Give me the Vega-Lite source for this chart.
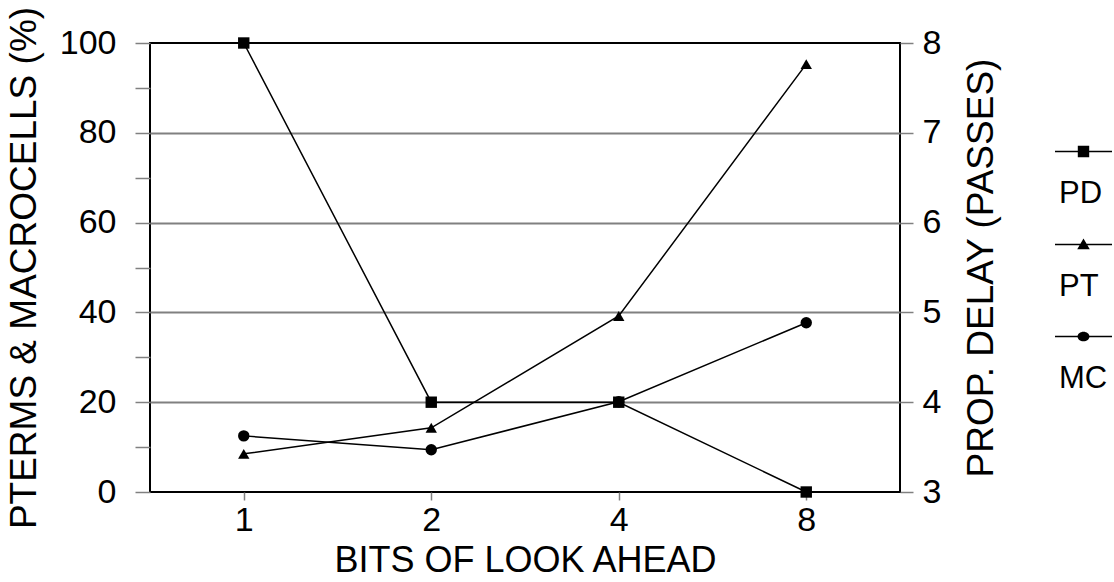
{
  "$schema": "https://vega.github.io/schema/vega-lite/v6.json",
  "autosize": "none",
  "width": 750,
  "height": 449,
  "padding": {"left": 150, "top": 43, "right": 214, "bottom": 90},
  "background": "#ffffff",
  "config": {
    "font": "Liberation Sans",
    "view": {"stroke": "#000000", "strokeWidth": 2},
    "axis": {
      "labelFont": "Liberation Sans",
      "titleFont": "Liberation Sans",
      "labelColor": "#000000",
      "titleColor": "#000000",
      "labelFontSize": 34,
      "titleFontSize": 37,
      "titleFontWeight": "normal",
      "tickColor": "#808080",
      "tickWidth": 1.5,
      "domain": false
    }
  },
  "data": {
    "values": [
      {"bits": "1", "series": "PD", "value": 8},
      {"bits": "2", "series": "PD", "value": 4},
      {"bits": "4", "series": "PD", "value": 4},
      {"bits": "8", "series": "PD", "value": 3},
      {"bits": "1", "series": "PT", "value": 8.5},
      {"bits": "2", "series": "PT", "value": 14.3},
      {"bits": "4", "series": "PT", "value": 39.2},
      {"bits": "8", "series": "PT", "value": 95.3},
      {"bits": "1", "series": "MC", "value": 12.5},
      {"bits": "2", "series": "MC", "value": 9.4},
      {"bits": "4", "series": "MC", "value": 20.1},
      {"bits": "8", "series": "MC", "value": 37.7}
    ]
  },
  "encoding": {
    "x": {
      "field": "bits",
      "type": "ordinal",
      "sort": ["1", "2", "4", "8"],
      "scale": {"type": "point", "padding": 0.5},
      "axis": {
        "title": "BITS OF LOOK AHEAD",
        "titleFontSize": 36,
        "labelAngle": 0,
        "tickSize": 8,
        "labelPadding": 3,
        "titlePadding": 6,
        "grid": false
      }
    }
  },
  "layer": [
    {
      "transform": [{"filter": "datum.series !== 'PD'"}],
      "encoding": {
        "y": {
          "field": "value",
          "type": "quantitative",
          "scale": {"domain": [0, 100], "nice": false, "zero": false},
          "axis": {
            "orient": "left",
            "title": "PTERMS & MACROCELLS (%)",
            "values": [0, 10, 20, 30, 40, 50, 60, 70, 80, 90, 100],
            "labelExpr": "datum.value % 20 === 0 ? datum.label : ''",
            "tickSize": 15,
            "labelPadding": 19,
            "titlePadding": 16,
            "grid": true,
            "gridColor": "#808080",
            "gridWidth": 2,
            "gridOpacity": {"condition": {"test": "datum.value % 20 === 0 && datum.value > 0 && datum.value < 100", "value": 1}, "value": 0}
          }
        }
      },
      "layer": [
        {
          "mark": {"type": "line", "color": "#000000", "strokeWidth": 1.5},
          "encoding": {"detail": {"field": "series"}}
        },
        {
          "mark": {"type": "point", "filled": true, "opacity": 1, "color": "#000000", "size": 130},
          "encoding": {
            "shape": {
              "field": "series",
              "type": "nominal",
              "scale": {"domain": ["PT", "MC"], "range": ["triangle-up", "circle"]},
              "legend": null
            }
          }
        }
      ]
    },
    {
      "transform": [{"filter": "datum.series === 'PD'"}],
      "encoding": {
        "y": {
          "field": "value",
          "type": "quantitative",
          "scale": {"domain": [3, 8], "nice": false, "zero": false},
          "axis": {
            "orient": "right",
            "title": "PROP. DELAY (PASSES)",
            "titleAngle": -90,
            "titleBaseline": "top",
            "values": [3, 3.5, 4, 4.5, 5, 5.5, 6, 6.5, 7, 7.5, 8],
            "format": "d",
            "labelExpr": "datum.value % 1 === 0 ? datum.label : ''",
            "tickSize": 13,
            "labelPadding": 9,
            "titlePadding": 23,
            "grid": false
          }
        }
      },
      "layer": [
        {
          "mark": {"type": "line", "color": "#000000", "strokeWidth": 1.5},
          "encoding": {}
        },
        {
          "mark": {"type": "point", "shape": "square", "filled": true, "opacity": 1, "color": "#000000", "size": 130},
          "encoding": {}
        }
      ]
    },
    {
      "mark": {"type": "point", "filled": true, "opacity": 1, "color": "#000000", "size": 0},
      "encoding": {
        "shape": {
          "field": "series",
          "type": "nominal",
          "scale": {
            "domain": ["PD", "PT", "MC"],
            "range": [
              "M-1,-1.5H1V-1.448H-1ZM-0.2,-1.674H0.2V-1.274H-0.2Z",
              "M-1,-1.5H1V-1.448H-1ZM-0.22,-1.31L0,-1.68L0.22,-1.31Z",
              "M-1,-1.5H1V-1.448H-1ZM0.21,-1.474C0.21,-1.381 0.116,-1.306 0,-1.306C-0.116,-1.306 -0.21,-1.381 -0.21,-1.474C-0.21,-1.567 -0.116,-1.642 0,-1.642C0.116,-1.642 0.21,-1.567 0.21,-1.474Z"
            ]
          },
          "legend": {
            "orient": "none",
            "legendX": 904,
            "legendY": 121,
            "title": null,
            "padding": 0,
            "symbolSize": 3249,
            "symbolOpacity": 1,
            "symbolFillColor": "#000000",
            "labelFont": "Liberation Sans",
            "labelFontSize": 31,
            "labelColor": "#000000",
            "labelOffset": -54,
            "rowPadding": 26
          }
        }
      }
    }
  ],
  "resolve": {"scale": {"y": "independent", "shape": "independent"}}
}
